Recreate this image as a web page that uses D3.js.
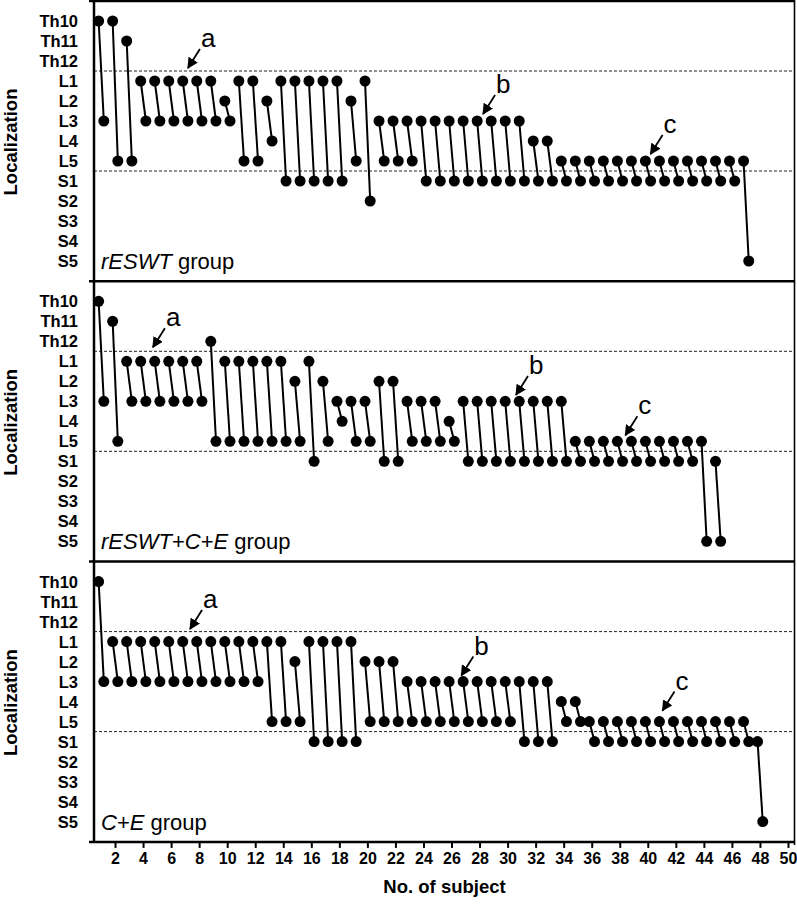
<!DOCTYPE html>
<html>
<head>
<meta charset="utf-8">
<script src="https://cdn.jsdelivr.net/npm/d3@7"></script>
<style>
    body { margin: 0; background: #fff; }
    svg { display: block; font-family: "Liberation Sans", Arial, sans-serif; }
</style>
</head>
<body>
<svg id="chart" width="797" height="904"></svg>
<script>
/* vertebral levels, top to bottom */
var levels = ["Th10", "Th11", "Th12", "L1", "L2", "L3", "L4", "L5", "S1", "S2", "S3", "S4", "S5"];
var subjectTicks = [2, 4, 6, 8, 10, 12, 14, 16, 18, 20, 22, 24, 26, 28, 30, 32, 34, 36, 38, 40, 42, 44, 46, 48, 50];

/* rESWT group: upper and lower end per subject */
var rESWTUpper = ["Th10", "Th10", "Th11", "L1", "L1", "L1", "L1", "L1", "L1", "L2",
    "L1", "L1", "L2", "L1", "L1", "L1", "L1", "L1", "L2", "L1",
    "L3", "L3", "L3", "L3", "L3", "L3", "L3", "L3", "L3", "L3",
    "L3", "L4", "L4", "L5", "L5", "L5", "L5", "L5", "L5", "L5",
    "L5", "L5", "L5", "L5", "L5", "L5", "L5"];
var rESWTLower = ["L3", "L5", "L5", "L3", "L3", "L3", "L3", "L3", "L3", "L3",
    "L5", "L5", "L4", "S1", "S1", "S1", "S1", "S1", "L5", "S2",
    "L5", "L5", "L5", "S1", "S1", "S1", "S1", "S1", "S1", "S1",
    "S1", "S1", "S1", "S1", "S1", "S1", "S1", "S1", "S1", "S1",
    "S1", "S1", "S1", "S1", "S1", "S1", "S5"];

/* rESWT+C+E group */
var comboUpper = ["Th10", "Th11", "L1", "L1", "L1", "L1", "L1", "L1", "Th12", "L1",
    "L1", "L1", "L1", "L1", "L2", "L1", "L2", "L3", "L3", "L3",
    "L2", "L2", "L3", "L3", "L3", "L4", "L3", "L3", "L3", "L3",
    "L3", "L3", "L3", "L3", "L5", "L5", "L5", "L5", "L5", "L5",
    "L5", "L5", "L5", "L5", "S1"];
var comboLower = ["L3", "L5", "L3", "L3", "L3", "L3", "L3", "L3", "L5", "L5",
    "L5", "L5", "L5", "L5", "L5", "S1", "L5", "L4", "L5", "L5",
    "S1", "S1", "L5", "L5", "L5", "L5", "S1", "S1", "S1", "S1",
    "S1", "S1", "S1", "S1", "S1", "S1", "S1", "S1", "S1", "S1",
    "S1", "S1", "S1", "S5", "S5"];

/* C+E group */
var ceUpper = ["Th10", "L1", "L1", "L1", "L1", "L1", "L1", "L1", "L1", "L1",
    "L1", "L1", "L1", "L1", "L2", "L1", "L1", "L1", "L1", "L2",
    "L2", "L2", "L3", "L3", "L3", "L3", "L3", "L3", "L3", "L3",
    "L3", "L3", "L3", "L4", "L4", "L5", "L5", "L5", "L5", "L5",
    "L5", "L5", "L5", "L5", "L5", "L5", "L5", "S1"];
var ceLower = ["L3", "L3", "L3", "L3", "L3", "L3", "L3", "L3", "L3", "L3",
    "L3", "L3", "L5", "L5", "L5", "S1", "S1", "S1", "S1", "L5",
    "L5", "L5", "L5", "L5", "L5", "L5", "L5", "L5", "L5", "L5",
    "S1", "S1", "S1", "L5", "L5", "S1", "S1", "S1", "S1", "S1",
    "S1", "S1", "S1", "S1", "S1", "S1", "S1", "S5"];

/* annotation arrows: tip in (subject, level index) */
var arrowTips = [
    [{ label: "a", x: 7.2, r: 2.35 }, { label: "b", x: 28.25, r: 4.65 }, { label: "c", x: 40.2, r: 6.65 }],
    [{ label: "a", x: 4.7, r: 2.3 }, { label: "b", x: 30.6, r: 4.68 }, { label: "c", x: 38.4, r: 6.7 }],
    [{ label: "a", x: 7.35, r: 2.37 }, { label: "b", x: 26.7, r: 4.7 }, { label: "c", x: 41.05, r: 6.45 }]
];

var groups = [
    { name: [["rESWT", true], [" group", false]], upper: rESWTUpper, lower: rESWTLower },
    { name: [["rESWT", true], ["+", false], ["C", true], ["+", false], ["E", true], [" group", false]], upper: comboUpper, lower: comboLower },
    { name: [["C", true], ["+", false], ["E", true], [" group", false]], upper: ceUpper, lower: ceLower }
];

var svg = d3.select("#chart");
var left = 94, right = 795, top0 = 1, panelH = 280.3;
var x = d3.scaleLinear().domain([0.5, 50.5]).range([left, right]);

svg.append("defs").append("marker")
    .attr("id", "head")
    .attr("viewBox", "0 0 10 10")
    .attr("refX", 9).attr("refY", 5)
    .attr("markerWidth", 11).attr("markerHeight", 11)
    .attr("markerUnits", "userSpaceOnUse")
    .attr("orient", "auto")
    .append("path")
    .attr("d", "M0,0L10,5L0,10Z")
    .attr("fill", "#000");

groups.forEach(function(g, gi) {
    var top = top0 + gi * panelH;
    var y = d3.scalePoint().domain(levels).range([top + 20, top + 260]);
    var step = y.step();
    var panel = svg.append("g");

    // dotted reference lines between Th12/L1 and L5/S1
    [y("Th12") + step / 2, y("L5") + step / 2].forEach(function(yy) {
        panel.append("line")
            .attr("x1", left).attr("x2", right)
            .attr("y1", yy).attr("y2", yy)
            .attr("stroke", "#222")
            .attr("stroke-width", 1)
            .attr("stroke-dasharray", "3,2");
    });

    // level labels
    panel.selectAll(".lvl").data(levels).enter().append("text")
        .attr("x", 78)
        .attr("y", function(d) { return y(d); })
        .attr("dy", "0.36em")
        .attr("text-anchor", "end")
        .attr("font-size", 16.5)
        .attr("font-weight", "bold")
        .text(function(d) { return d; });

    panel.append("text")
        .attr("transform", "translate(17," + (top + 141) + ") rotate(-90)")
        .attr("text-anchor", "middle")
        .attr("font-size", 18.5)
        .attr("font-weight", "bold")
        .text("Localization");

    var subjects = g.upper.map(function(d, i) {
        return { n: i + 1, a: d, b: g.lower[i] };
    });

    panel.selectAll(".pair").data(subjects).enter().append("line")
        .attr("x1", function(d) { return x(d.n - 0.17); })
        .attr("y1", function(d) { return y(d.a); })
        .attr("x2", function(d) { return x(d.n + 0.2); })
        .attr("y2", function(d) { return y(d.b); })
        .attr("stroke", "#000")
        .attr("stroke-width", 2);

    panel.selectAll(".up").data(subjects).enter().append("circle")
        .attr("cx", function(d) { return x(d.n - 0.17); })
        .attr("cy", function(d) { return y(d.a); })
        .attr("r", 5.5);

    panel.selectAll(".down").data(subjects).enter().append("circle")
        .attr("cx", function(d) { return x(d.n + 0.2); })
        .attr("cy", function(d) { return y(d.b); })
        .attr("r", 5.5);

    // a / b / c arrows
    arrowTips[gi].forEach(function(t) {
        var tx = x(t.x), ty = y(levels[0]) + t.r * step;
        panel.append("line")
            .attr("x1", tx + 12).attr("y1", ty - 19)
            .attr("x2", tx).attr("y2", ty)
            .attr("stroke", "#000")
            .attr("stroke-width", 1.8)
            .attr("marker-end", "url(#head)");
        panel.append("text")
            .attr("x", tx + 13)
            .attr("y", ty - 21)
            .attr("font-size", 26)
            .text(t.label);
    });

    var label = panel.append("text")
        .attr("x", 101)
        .attr("y", top + 268)
        .attr("font-size", 22);
    g.name.forEach(function(p) {
        label.append("tspan")
            .attr("font-style", p[1] ? "italic" : "normal")
            .text(p[0]);
    });

    // panel top border
    svg.append("line")
        .attr("x1", 89).attr("x2", right)
        .attr("y1", top).attr("y2", top)
        .attr("stroke", "#000")
        .attr("stroke-width", 2.5);
});

var bottom = top0 + 3 * panelH;

// frame: left axis, right edge, bottom axis
svg.append("line")
    .attr("x1", left).attr("x2", left)
    .attr("y1", 0).attr("y2", bottom)
    .attr("stroke", "#000").attr("stroke-width", 2.5);
svg.append("line")
    .attr("x1", right - 0.5).attr("x2", right - 0.5)
    .attr("y1", 0).attr("y2", bottom + 3)
    .attr("stroke", "#000").attr("stroke-width", 1.6);

var xAxis = svg.append("g")
    .attr("transform", "translate(0," + bottom + ")")
    .call(d3.axisBottom(x).tickValues(subjectTicks).tickSize(6).tickPadding(5));
xAxis.select(".domain").remove();
xAxis.selectAll(".tick line").attr("stroke", "#000").attr("stroke-width", 2);
xAxis.selectAll(".tick text")
    .attr("font-size", 16)
    .attr("font-weight", "bold")
    .attr("font-family", "Liberation Sans, Arial, sans-serif")
    .attr("fill", "#000");

svg.append("line")
    .attr("x1", 89).attr("x2", right)
    .attr("y1", bottom).attr("y2", bottom)
    .attr("stroke", "#000").attr("stroke-width", 2.5);

svg.append("text")
    .attr("x", (left + right) / 2)
    .attr("y", 893)
    .attr("text-anchor", "middle")
    .attr("font-size", 18.5)
    .attr("font-weight", "bold")
    .text("No. of subject");
</script>
</body>
</html>
